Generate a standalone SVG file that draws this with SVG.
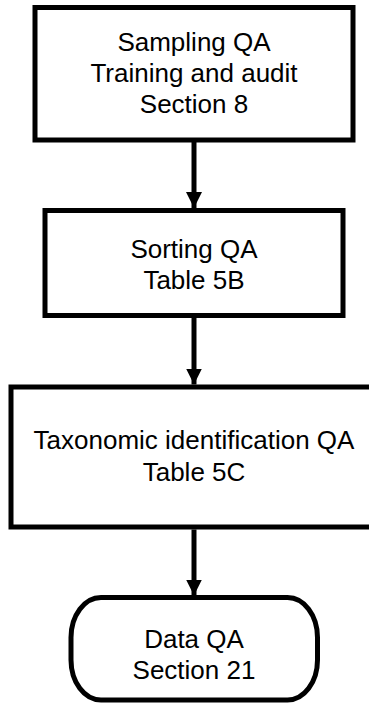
<svg xmlns="http://www.w3.org/2000/svg" width="369" height="705" viewBox="0 0 369 705">
  <style>
    .box { fill: #ffffff; stroke: #000000; stroke-width: 5; }
    .lbl { font-family: "Liberation Sans", Arial, sans-serif; font-size: 26px; fill: #000000; text-anchor: middle; }
    .conn { stroke: #000000; stroke-width: 5; fill: none; }
  </style>
  <defs>
    <marker id="arrow" markerUnits="userSpaceOnUse" markerWidth="16" markerHeight="16" viewBox="0 0 16 16" refX="16" refY="8" orient="auto">
      <path d="M0,0 L16,8 L0,16 Z" fill="#000000"/>
    </marker>
  </defs>
  <rect x="0" y="0" width="369" height="705" fill="#ffffff"/>

  <g id="connectors">
    <line class="conn" x1="194" y1="142" x2="194" y2="208" marker-end="url(#arrow)"/>
    <line class="conn" x1="194" y1="318" x2="194" y2="384.5" marker-end="url(#arrow)"/>
    <line class="conn" x1="194" y1="529.5" x2="194" y2="595.5" marker-end="url(#arrow)"/>
  </g>

  <g id="node-sampling">
    <rect class="box" x="35" y="7.5" width="318" height="132.5"/>
    <text class="lbl" x="194" y="51.3">Sampling QA</text>
    <text class="lbl" x="194" y="82.3">Training and audit</text>
    <text class="lbl" x="194" y="113.3">Section 8</text>
  </g>

  <g id="node-sorting">
    <rect class="box" x="45" y="210.5" width="298" height="105"/>
    <text class="lbl" x="194" y="257.5">Sorting QA</text>
    <text class="lbl" x="194" y="289">Table 5B</text>
  </g>

  <g id="node-taxonomic">
    <rect class="box" x="11" y="387" width="366" height="140"/>
    <text class="lbl" x="194" y="449">Taxonomic identification QA</text>
    <text class="lbl" x="194" y="480.5">Table 5C</text>
  </g>

  <g id="node-data">
    <rect class="box" x="71" y="597.5" width="246.5" height="102.5" rx="30" ry="40"/>
    <text class="lbl" x="194" y="647.5">Data QA</text>
    <text class="lbl" x="194" y="679">Section 21</text>
  </g>
</svg>
